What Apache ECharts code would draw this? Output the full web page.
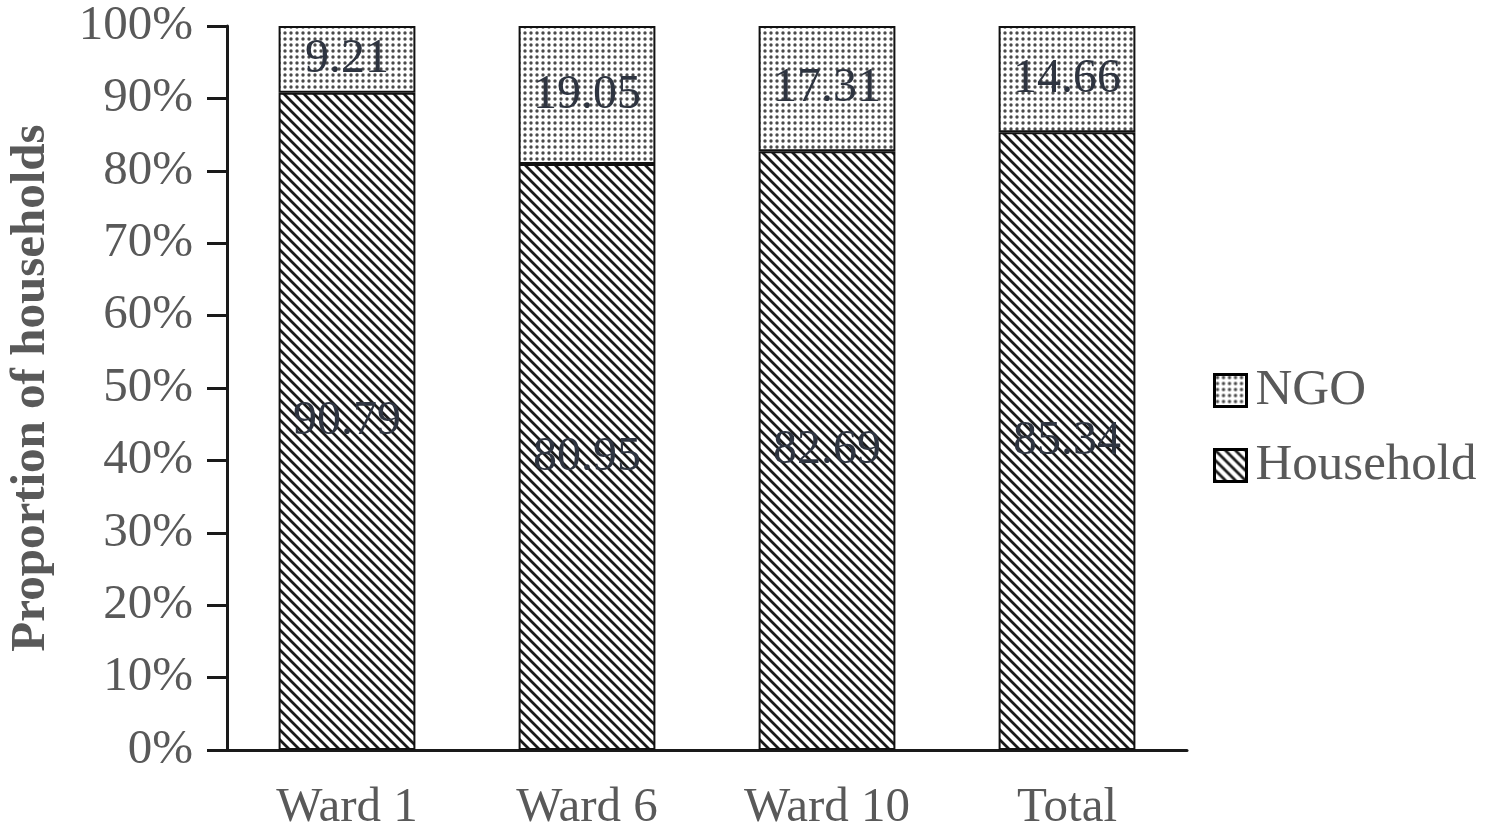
<!DOCTYPE html>
<html>
<head>
<meta charset="utf-8">
<script src="https://cdn.jsdelivr.net/npm/echarts@6/dist/echarts.min.js"></script>
<style>
html,body{margin:0;padding:0;background:#fff;}
#chart{width:1488px;height:834px;}
</style>
</head>
<body>
<div id="chart"></div>
<script>
const categories = ['Ward 1', 'Ward 6', 'Ward 10', 'Total'];
const householdValues = [90.79, 80.95, 82.69, 85.34];
const ngoValues = [9.21, 19.05, 17.31, 14.66];
const yTickLabels = ['0%','10%','20%','30%','40%','50%','60%','70%','80%','90%','100%'];

function hatchPattern() {
  const c = document.createElement('canvas');
  const s = 10;
  c.width = s; c.height = s;
  const ctx = c.getContext('2d');
  ctx.fillStyle = '#fff';
  ctx.fillRect(0, 0, s, s);
  ctx.strokeStyle = '#1a1a1a';
  ctx.lineWidth = 2.8;
  ctx.beginPath();
  ctx.moveTo(-2, -2); ctx.lineTo(s + 2, s + 2);
  ctx.moveTo(-2 - s, -2); ctx.lineTo(2, s + 2);
  ctx.moveTo(s - 2, -2); ctx.lineTo(2 * s + 2, s + 2);
  ctx.stroke();
  return c;
}
function dotPattern() {
  const c = document.createElement('canvas');
  const s = 6;
  c.width = s; c.height = s;
  const ctx = c.getContext('2d');
  ctx.fillStyle = '#fff';
  ctx.fillRect(0, 0, s, s);
  ctx.fillStyle = '#4a4a4a';
  ctx.beginPath();
  ctx.arc(3, 3, 1.7, 0, Math.PI * 2);
  ctx.fill();
  return c;
}

const font = '"Liberation Serif", "Times New Roman", serif';
const chart = echarts.init(document.getElementById('chart'), null, {renderer: 'canvas'});
const labelStyle = {
  show: true, position: 'inside', color: '#2e3440', fontFamily: font, fontSize: 48,
  formatter: p => p.value.toFixed(2)
};
chart.setOption({
  animation: false,
  backgroundColor: '#fff',
  grid: {left: 227, right: 301, top: 26, bottom: 84, containLabel: false, outerBoundsMode: 'none'},
  legend: {
    orient: 'vertical', left: 1208, top: 360, itemWidth: 32, itemHeight: 32, itemGap: 24,
    icon: 'rect',
    data: ['NGO', 'Household'],
    itemStyle: {borderColor: '#000', borderWidth: 3},
    textStyle: {fontFamily: font, fontSize: 51, color: '#595959', padding: [0, 0, 0, 4]}
  },
  xAxis: {
    type: 'category', data: categories,
    axisLine: {lineStyle: {color: '#1a1a1a', width: 3}},
    axisTick: {show: false},
    axisLabel: {fontFamily: font, fontSize: 49, color: '#595959', margin: 34}
  },
  yAxis: {
    type: 'value', min: 0, max: 100, interval: 10,
    name: 'Proportion of households', nameLocation: 'middle', nameGap: 171,
    nameTextStyle: {fontFamily: font, fontSize: 49, fontWeight: 'bold', color: '#595959'},
    axisLine: {show: true, lineStyle: {color: '#1a1a1a', width: 3}},
    axisTick: {show: true, length: 20, lineStyle: {color: '#1a1a1a', width: 3}},
    splitLine: {show: false},
    axisLabel: {fontFamily: font, fontSize: 49, color: '#595959', margin: 34,
      formatter: v => yTickLabels[Math.round(v / 10)]}
  },
  series: [
    {
      name: 'Household', type: 'bar', stack: 'total', data: householdValues, barWidth: '57%',
      itemStyle: {color: {image: hatchPattern(), repeat: 'repeat'}, borderColor: '#111', borderWidth: 2},
      label: labelStyle
    },
    {
      name: 'NGO', type: 'bar', stack: 'total', data: ngoValues, barWidth: '57%',
      itemStyle: {color: {image: dotPattern(), repeat: 'repeat'}, borderColor: '#111', borderWidth: 2},
      label: labelStyle
    }
  ]
});
</script>
</body>
</html>
